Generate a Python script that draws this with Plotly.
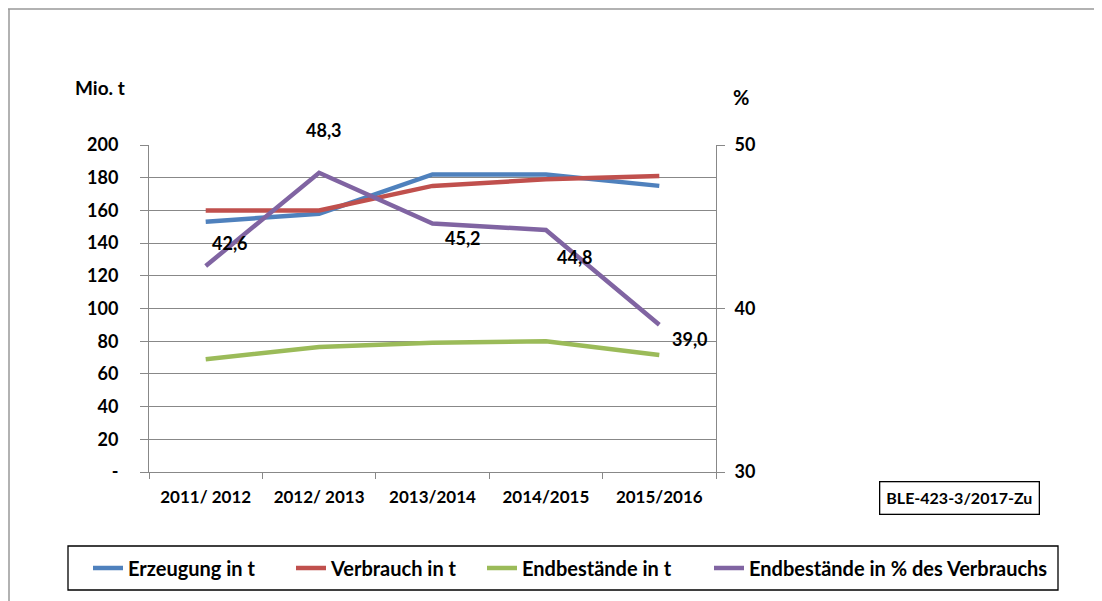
import plotly.graph_objects as go

categories = ["2011/ 2012", "2012/ 2013", "2013/2014", "2014/2015", "2015/2016"]
erzeugung = [153, 158, 182, 182, 175]
verbrauch = [160, 160, 175, 179, 181]
endbestaende = [69, 76.5, 79, 80, 71.5]
endbestaende_pct = [42.6, 48.3, 45.2, 44.8, 39.0]
pct_labels = ["42,6", "48,3", "45,2", "44,8", "39,0"]
left_ticks = [0, 20, 40, 60, 80, 100, 120, 140, 160, 180, 200]
left_ticktext = ["-", "20", "40", "60", "80", "100", "120", "140", "160", "180", "200"]
right_ticks = [30, 40, 50]

OFF = 8  # page body margin
W, H = 1102 - OFF, 601 - OFF
# plot area in screen pixels
L, R, T, B = 149, 716, 145, 472
FONT = "Lato, Carlito, Calibri, sans-serif"
GRID = "#888888"


def px(x):
    return (x - L) / (R - L)


def py(y):
    return (B - y) / (B - T)


fig = go.Figure()
series = [
    ("Erzeugung in t", erzeugung, "#4F81BD", "y", "legend"),
    ("Verbrauch in t", verbrauch, "#C0504D", "y", "legend2"),
    ("Endbestände in t", endbestaende, "#9BBB59", "y", "legend3"),
    ("Endbestände in % des Verbrauchs", endbestaende_pct, "#8064A2", "y2", "legend4"),
]
for name, vals, col, ax, lg in series:
    fig.add_trace(go.Scatter(x=categories, y=vals, name=name, mode="lines",
                             line=dict(color=col, width=4.5), yaxis=ax, legend=lg))

offsets = [(24, 23), (5, 43), (30, -15), (29, -27), (31, -14)]
for c, v, t, (dx, dy) in zip(categories, endbestaende_pct, pct_labels, offsets):
    fig.add_annotation(x=c, y=v, yref="y2", text=t, showarrow=False,
                       xshift=dx, yshift=dy, xanchor="center", yanchor="middle",
                       font=dict(family=FONT, size=18, color="black", weight="bold"))

fig.add_annotation(x=px(100), y=py(88), xref="paper", yref="paper", text="Mio. t",
                   showarrow=False, xanchor="center", yanchor="middle",
                   font=dict(family=FONT, size=19, color="black", weight="bold"))
fig.add_annotation(x=px(741), y=py(97), xref="paper", yref="paper", text="%",
                   showarrow=False, xanchor="center", yanchor="middle",
                   font=dict(family=FONT, size=20, color="black", weight="bold"))
fig.add_annotation(x=px(959.5), y=py(498), xref="paper", yref="paper", text="BLE-423-3/2017-Zu",
                   showarrow=False, xanchor="center", yanchor="middle",
                   bordercolor="black", borderwidth=1.3, borderpad=6,
                   font=dict(family=FONT, size=16, color="black", weight="bold"))

shapes = [
    dict(type="line", xref="paper", yref="paper", x0=px(8), x1=px(1102), y0=py(9), y1=py(9),
         line=dict(color="#999999", width=1.5)),
    dict(type="line", xref="paper", yref="paper", x0=px(9), x1=px(9), y0=py(9), y1=py(601),
         line=dict(color="#999999", width=1.5)),
    dict(type="rect", xref="paper", yref="paper", x0=px(68), x1=px(1058), y0=py(546), y1=py(590),
         line=dict(color="black", width=1.3)),
]

legend_font = dict(family=FONT, size=20, color="black", weight="bold")


def lg(xs):
    return dict(x=px(xs), y=py(568), xanchor="left", yanchor="middle", orientation="h",
                font=legend_font, bgcolor="rgba(0,0,0,0)", itemwidth=30)


fig.update_layout(
    width=W, height=H,
    margin=dict(l=L - OFF, r=W - (R - OFF), t=T - OFF, b=H - (B - OFF), pad=0),
    paper_bgcolor="white", plot_bgcolor="white",
    font=dict(family=FONT, color="black"),
    shapes=shapes,
    showlegend=True,
    legend=lg(88), legend2=lg(291), legend3=lg(482), legend4=lg(709),
    xaxis=dict(type="category", showgrid=False, showline=True, linecolor=GRID, linewidth=1,
               ticks="outside", tickson="boundaries", ticklen=6, tickcolor=GRID,
               ticklabelstandoff=10,
               tickfont=dict(family=FONT, size=17, color="black", weight="bold"),
               range=[-0.5, 4.5], fixedrange=True),
    yaxis=dict(range=[0, 200], tickvals=left_ticks, ticktext=left_ticktext,
               showgrid=True, gridcolor=GRID, gridwidth=1, showline=True, linecolor=GRID,
               linewidth=1, ticks="outside", ticklen=8, tickcolor=GRID, zeroline=False,
               ticklabelstandoff=18,
               tickfont=dict(family=FONT, size=18, color="black", weight="bold")),
    yaxis2=dict(range=[30, 50], tickvals=right_ticks, overlaying="y", side="right",
                showgrid=False, showline=True, linecolor=GRID, linewidth=1,
                ticks="outside", ticklen=8, tickcolor=GRID, zeroline=False,
                ticklabelstandoff=6,
                tickfont=dict(family=FONT, size=18, color="black", weight="bold")),
)

fig.write_html("out.html")
